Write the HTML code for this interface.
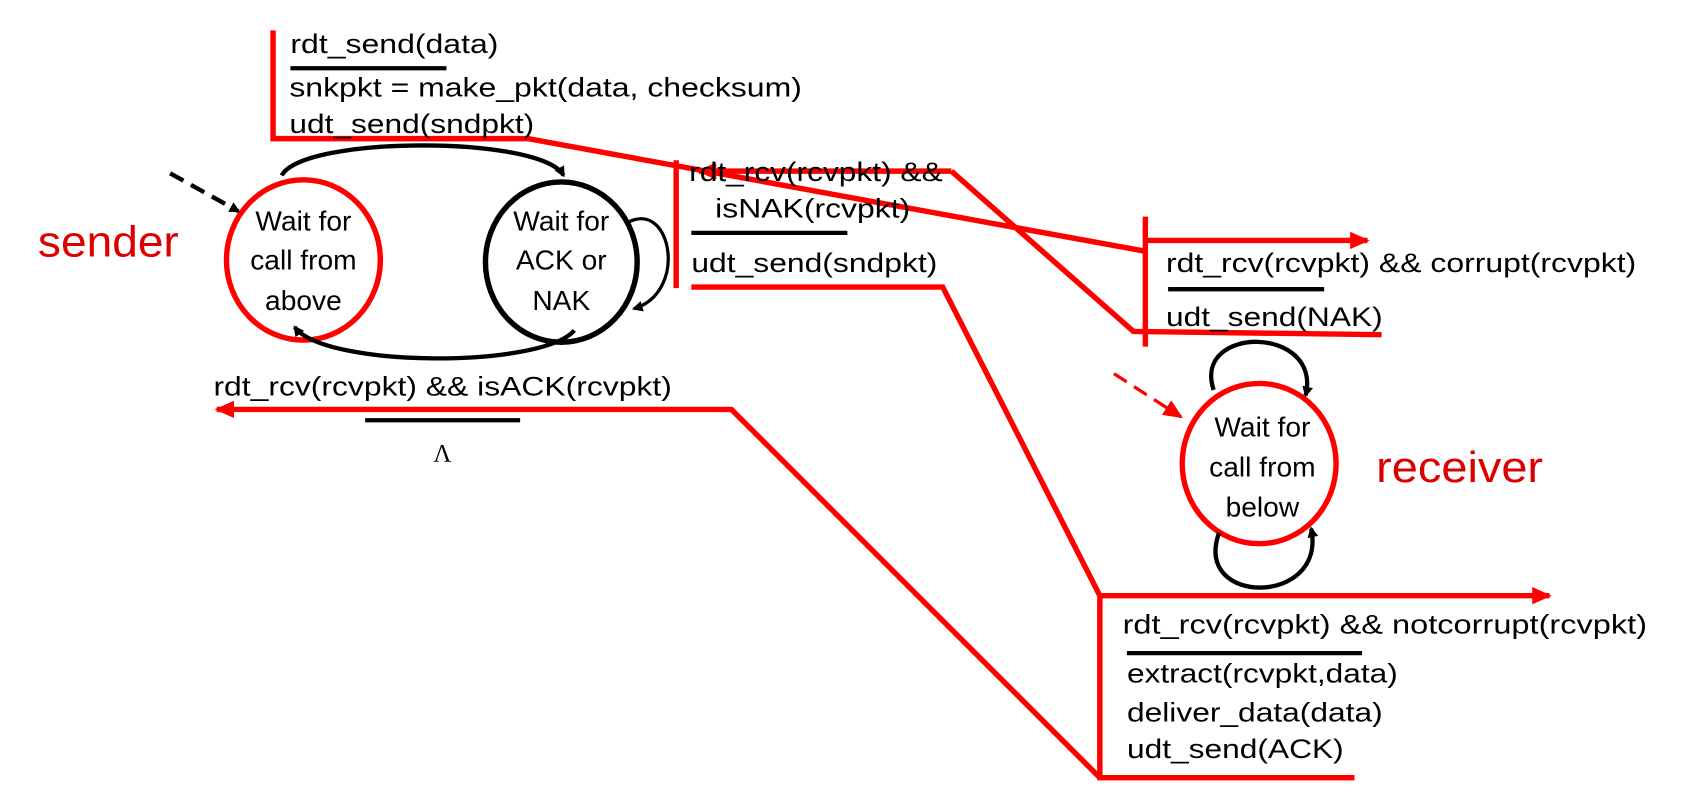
<!DOCTYPE html>
<html><head><meta charset="utf-8"><style>html,body{margin:0;padding:0;background:#fff;}svg{display:block}</style></head>
<body>
<svg width="1698" height="808" viewBox="0 0 1567 746" preserveAspectRatio="none" xmlns="http://www.w3.org/2000/svg" font-family="Liberation Sans, sans-serif">
<defs>
<marker id="ak" markerWidth="10" markerHeight="10" refX="8" refY="5" orient="auto" markerUnits="userSpaceOnUse"><path d="M0,0 L10,5 L0,10 z" fill="#000"/></marker>
<marker id="ar" markerWidth="18" markerHeight="16" refX="16" refY="8" orient="auto" markerUnits="userSpaceOnUse"><path d="M0,0 L18,8 L0,16 z" fill="#f00"/></marker>
</defs>
<g fill="none" stroke="#f00" stroke-width="5">
<path d="M252,28 L252,128 L487,128 L1057,232"/>
<path d="M624,148 L624,266"/>
<path d="M878,158 L1046,306 L1275,309"/>
<path d="M878,158 L645,158" marker-end="url(#ar)"/>
<path d="M638,265 L870,265 L1015,550 L1015,718 L1250,718"/>
<path d="M1015,550 L1430,550" marker-end="url(#ar)"/>
<path d="M1057,200 L1057,320"/>
<path d="M1057,222 L1262,222" marker-end="url(#ar)"/>
<path d="M1015,718 L675,378 L200,378" marker-end="url(#ar)"/>
</g>
<ellipse cx="280" cy="240" rx="71" ry="74" fill="none" stroke="#f00" stroke-width="5"/>
<ellipse cx="518" cy="242" rx="70" ry="74" fill="none" stroke="#000" stroke-width="5"/>
<ellipse cx="1162" cy="428" rx="71" ry="74" fill="none" stroke="#f00" stroke-width="5"/>
<g fill="none" stroke="#000" stroke-width="4">
<path d="M260,162 C280,125 500,125 520,162" marker-end="url(#ak)"/>
<path d="M530,305 C500,340 300,340 272,302" marker-end="url(#ak)"/>
<path d="M580,205 C620,185 635,270 585,285" stroke-width="3" marker-end="url(#ak)"/>
<path d="M157,160 L220,195" stroke-dasharray="14,8" marker-end="url(#ak)"/>
<path d="M1120,360 C1100,300 1220,300 1205,365" marker-end="url(#ak)"/>
<path d="M1125,492 C1100,560 1225,560 1210,488" marker-end="url(#ak)"/>
</g>
<path d="M1028,345 L1090,385" stroke="#f00" stroke-width="3" stroke-dasharray="14,8" marker-end="url(#ar)"/>
<g stroke="#000" stroke-width="4">
<line x1="268" y1="63" x2="412" y2="63"/>
<line x1="638" y1="215" x2="782" y2="215"/>
<line x1="1078" y1="267" x2="1222" y2="267"/>
<line x1="337" y1="388" x2="480" y2="388"/>
<line x1="1040" y1="603" x2="1257" y2="603"/>
</g>
<g font-size="25" fill="#000">
<text x="268" y="49" textLength="192" lengthAdjust="spacingAndGlyphs">rdt_send(data)</text>
<text x="267" y="89" textLength="473" lengthAdjust="spacingAndGlyphs">snkpkt = make_pkt(data, checksum)</text>
<text x="267" y="123" textLength="226" lengthAdjust="spacingAndGlyphs">udt_send(sndpkt)</text>
<text x="636" y="167" textLength="234" lengthAdjust="spacingAndGlyphs">rdt_rcv(rcvpkt) &amp;&amp;</text>
<text x="660" y="201" textLength="180" lengthAdjust="spacingAndGlyphs">isNAK(rcvpkt)</text>
<text x="638" y="251" textLength="227" lengthAdjust="spacingAndGlyphs">udt_send(sndpkt)</text>
<text x="1076" y="251" textLength="434" lengthAdjust="spacingAndGlyphs">rdt_rcv(rcvpkt) &amp;&amp; corrupt(rcvpkt)</text>
<text x="1076" y="301" textLength="200" lengthAdjust="spacingAndGlyphs">udt_send(NAK)</text>
<text x="197" y="365" textLength="423" lengthAdjust="spacingAndGlyphs">rdt_rcv(rcvpkt) &amp;&amp; isACK(rcvpkt)</text>
<text x="400" y="426" font-size="23" font-family="Liberation Serif, serif">Λ</text>
<text x="1036" y="585" textLength="484" lengthAdjust="spacingAndGlyphs">rdt_rcv(rcvpkt) &amp;&amp;  notcorrupt(rcvpkt)</text>
<text x="1040" y="630" textLength="250" lengthAdjust="spacingAndGlyphs">extract(rcvpkt,data)</text>
<text x="1040" y="666" textLength="236" lengthAdjust="spacingAndGlyphs">deliver_data(data)</text>
<text x="1040" y="700" textLength="200" lengthAdjust="spacingAndGlyphs">udt_send(ACK)</text>
</g>
<g font-size="26" fill="#000" text-anchor="middle">
<text x="280" y="213">Wait for</text><text x="280" y="249">call from</text><text x="280" y="286">above</text>
<text x="518" y="213">Wait for</text><text x="518" y="249">ACK or</text><text x="518" y="286">NAK</text>
<text x="1165" y="403">Wait for</text><text x="1165" y="440">call from</text><text x="1165" y="477">below</text>
</g>
<text x="35" y="237" font-size="40" fill="#d00" textLength="130" lengthAdjust="spacingAndGlyphs">sender</text>
<text x="1270" y="445" font-size="40" fill="#d00" textLength="154" lengthAdjust="spacingAndGlyphs">receiver</text>
</svg>
</body></html>
